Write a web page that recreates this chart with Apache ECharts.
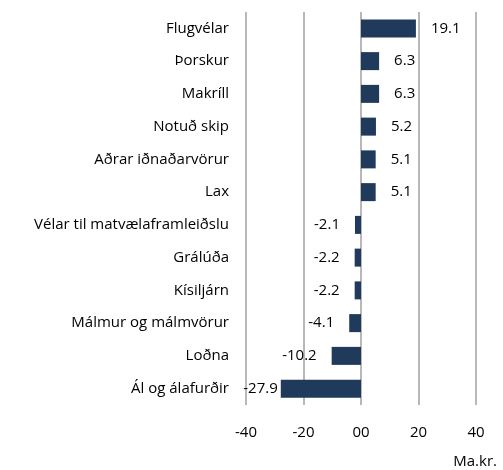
<!DOCTYPE html>
<html>
<head>
<meta charset="utf-8">
<script src="https://cdn.jsdelivr.net/npm/echarts@6/dist/echarts.min.js"></script>
<style>
  html, body { margin: 0; padding: 0; background: #fff; }
  #main { width: 503px; height: 470px; }
</style>
</head>
<body>
<div id="main"></div>
<script>
// vöruflokkar, efst til neðst
var categories = ['Flugvélar', 'Þorskur', 'Makríll', 'Notuð skip', 'Aðrar iðnaðarvörur', 'Lax',
  'Vélar til matvælaframleiðslu', 'Grálúða', 'Kísiljárn', 'Málmur og málmvörur', 'Loðna', 'Ál og álafurðir'];
var values = [19.1, 6.3, 6.3, 5.2, 5.1, 5.1, -2.1, -2.2, -2.2, -4.1, -10.2, -27.9];
var axisMin = -40, axisMax = 40, axisStep = 20;
var unitName = 'Ma.kr.';

var font = 'Open Sans';
var fs = 15;

var barData = [];
for (var i = 0; i < values.length; i++) {
  var v = values[i];
  barData.push({
    value: v,
    label: {
      position: v < 0 ? 'left' : 'right',
      distance: (v < -20) ? 3 : 15
    }
  });
}

var option = {
  animation: false,
  grid: { left: 246, right: 27, top: 12, bottom: 65 },
  xAxis: {
    type: 'value',
    min: axisMin, max: axisMax, interval: axisStep,
    name: unitName,
    nameLocation: 'end',
    nameGap: 0,
    nameTextStyle: { color: '#000', fontFamily: font, fontSize: fs, align: 'right', verticalAlign: 'top', padding: [49, -21, 0, 0] },
    axisLine: { show: false },
    axisTick: { show: false },
    splitLine: { show: true, lineStyle: { color: '#a0a0a0', width: 1.5 } },
    axisLabel: {
      color: '#000', fontFamily: font, fontSize: fs, margin: 20,
      formatter: function (val) { return Math.abs(Number(val)) < 1e-9 ? '00' : String(val); }
    }
  },
  yAxis: {
    type: 'category',
    data: categories,
    inverse: true,
    axisLine: { show: false },
    axisTick: { show: false },
    splitLine: { show: false },
    axisLabel: { color: '#000', fontFamily: font, fontSize: fs, margin: 17 }
  },
  series: [{
    type: 'bar',
    data: barData,
    barWidth: 18,
    itemStyle: { color: '#1f3a5a' },
    label: {
      show: true,
      color: '#000', fontFamily: font, fontSize: fs,
      formatter: function (p) { return p.value.toFixed(1); }
    }
  }]
};

var myChart = echarts.init(document.getElementById('main'));
myChart.setOption(option);
</script>
</body>
</html>
